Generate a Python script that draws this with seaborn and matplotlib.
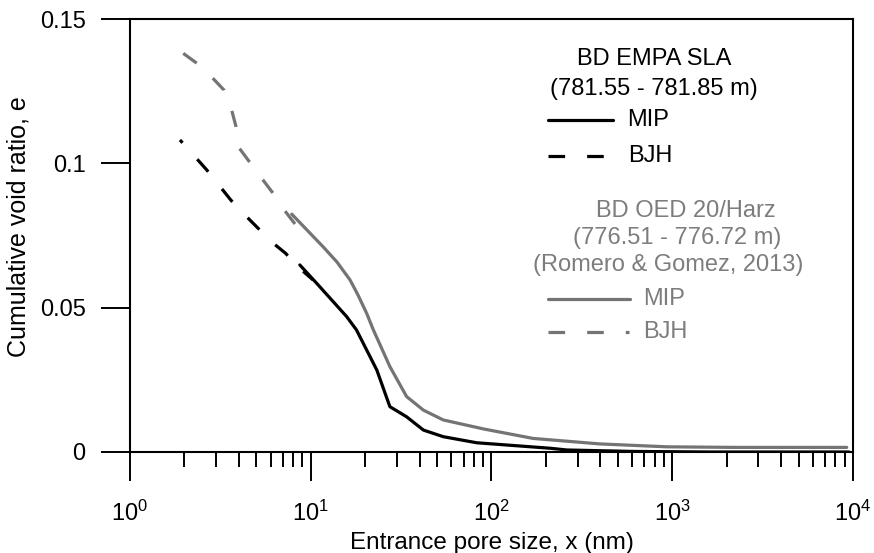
import matplotlib
matplotlib.use("Agg")
import matplotlib.pyplot as plt
from matplotlib.lines import Line2D
import numpy as np
import pandas as pd
import seaborn as sns

# Entrance pore size (nm) and cumulative void ratio for each test
empa_mip_x = [8.7, 10.8, 15.8, 17.9, 23.2, 27.4, 33.9, 42.0, 54.1, 82.8, 211, 261, 600, 1600, 9500]
empa_mip_e = [0.0648, 0.0584, 0.0469, 0.0423, 0.0284, 0.0157, 0.0122, 0.0076, 0.0053, 0.0032,
              0.0013, 0.0007, 0.0002, 0.0, 0.0]

empa_bjh_x = [1.89, 2.66, 3.61, 4.37, 5.06, 6.15, 7.27, 8.2, 10.3]
empa_bjh_e = [0.1081, 0.0977, 0.0873, 0.0818, 0.0778, 0.0725, 0.0688, 0.0650, 0.0596]

oed_mip_x = [7.85, 11.7, 13.97, 16.5, 18.25, 20.4, 22.2, 27.4, 33.9, 42.0, 54.1, 90.1, 170,
             398, 932, 2177, 9230]
oed_mip_e = [0.0824, 0.0711, 0.0658, 0.0596, 0.0544, 0.0480, 0.0423, 0.0296, 0.0192, 0.0145,
             0.0111, 0.0080, 0.0047, 0.0028, 0.0018, 0.0016, 0.0016]

oed_bjh_x = [1.97, 2.34, 2.87, 3.31, 3.65, 3.86, 4.03, 4.57, 5.40, 6.16, 7.20, 8.18]
oed_bjh_e = [0.1381, 0.1347, 0.1295, 0.1254, 0.1185, 0.1127, 0.1052, 0.1006, 0.0945, 0.0898,
             0.0835, 0.0790]

y_ticks = [0, 0.05, 0.1, 0.15]
y_tick_labels = ["0", "0.05", "0.1", "0.15"]

sns.set_theme(style="ticks")
plt.rcParams["font.family"] = ["Liberation Sans", "DejaVu Sans"]
plt.rcParams["mathtext.default"] = "regular"

W, H = 874, 553
fig = plt.figure(figsize=(W / 100, H / 100), dpi=100)
ax = fig.add_axes([130 / W, 1 - 452 / H, 723 / W, 433 / H])

BLACK = "#000000"
GREY = "#747474"
GREY_TXT = "#7d7d7d"
LW = 2.3
DASH = (5.2, 6.9)


def frame(x, e):
    return pd.DataFrame({"size": x, "e": e})


sns.lineplot(data=frame(oed_mip_x, oed_mip_e), x="size", y="e", ax=ax, color=GREY,
             lw=LW, estimator=None, sort=False)
sns.lineplot(data=frame(oed_bjh_x, oed_bjh_e), x="size", y="e", ax=ax, color=GREY,
             lw=LW, estimator=None, sort=False, linestyle=(0, DASH))
sns.lineplot(data=frame(empa_mip_x, empa_mip_e), x="size", y="e", ax=ax, color=BLACK,
             lw=LW, estimator=None, sort=False)
sns.lineplot(data=frame(empa_bjh_x, empa_bjh_e), x="size", y="e", ax=ax, color=BLACK,
             lw=LW, estimator=None, sort=False, linestyle=(4.0, DASH))

ax.set_xscale("log")
ax.set_xlim(1, 1e4)
ax.set_ylim(0, 0.15)
ax.set_yticks(y_ticks)
ax.set_yticklabels(y_tick_labels)

for side in ["left", "right", "top", "bottom"]:
    ax.spines[side].set_linewidth(1.5)
    ax.spines[side].set_color("black")

ax.tick_params(axis="both", which="major", direction="out", length=21, width=1.4,
               color="black", labelsize=17, labelcolor="black")
ax.tick_params(axis="x", which="minor", direction="out", length=10.8, width=1.4, color="black")
ax.tick_params(axis="y", which="minor", left=False)
ax.tick_params(axis="y", which="major", pad=11)
ax.tick_params(axis="x", which="major", pad=14)
ax.grid(False)

ax.set_xlabel("Entrance pore size, x (nm)", fontsize=17.5, color="black")
ax.set_ylabel("Cumulative void ratio, e", fontsize=18, color="black")
ax.xaxis.set_label_coords(0.5, (452 - 532) / 433)
ax.yaxis.set_label_coords((31 - 130) / 723, 0.52)


# Legend block, placed in pixel positions on the figure
def fx(px):
    return px / W


def fy(py):
    return 1 - py / H


def label(px, py, s, color, ha="center"):
    fig.text(fx(px), fy(py), s, ha=ha, va="center", fontsize=17, color=color)


def key(px0, px1, py, color, ls):
    fig.add_artist(Line2D([fx(px0), fx(px1)], [fy(py), fy(py)], color=color, lw=LW,
                          linestyle=ls, transform=fig.transFigure))


label(654, 59, "BD EMPA SLA", BLACK)
label(654, 89, "(781.55 - 781.85 m)", BLACK)
key(548, 613, 120, BLACK, "-")
label(627, 120, "MIP", BLACK, ha="left")
key(548, 604, 156, BLACK, (0, DASH))
label(628, 156, "BJH", BLACK, ha="left")

label(686, 211, "BD OED 20/Harz", GREY_TXT)
label(677, 238, "(776.51 - 776.72 m)", GREY_TXT)
label(668, 265, "(Romero & Gomez, 2013)", GREY_TXT)
key(548, 630, 299, GREY, "-")
label(643, 299, "MIP", GREY_TXT, ha="left")
key(548, 629, 332, GREY, (0, DASH))
label(643, 332, "BJH", GREY_TXT, ha="left")

fig.savefig("out.png", dpi=100)
